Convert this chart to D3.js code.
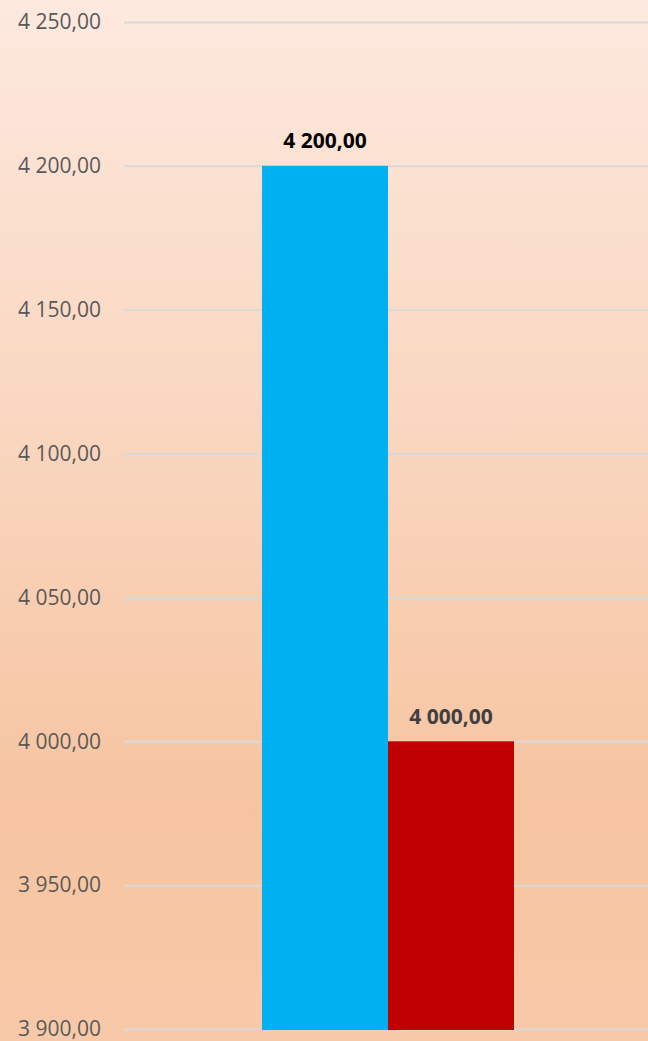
<!DOCTYPE html>
<html><head><meta charset="utf-8">
<script src="https://cdn.jsdelivr.net/npm/d3@7"></script>
<style>html,body{margin:0;padding:0;overflow:hidden;}svg{display:block;}</style>
</head><body>
<svg id="c" width="648" height="1041"></svg>
<script>
const categories = ["A", "B"];
const values = [4200, 4000];
const barColors = ["#00b0f0", "#c00000"];
const labelColors = ["#000000", "#404040"];
const yTicks = [3900, 3950, 4000, 4050, 4100, 4150, 4200, 4250];

const W = 648, H = 1041;
const svg = d3.select("#c");
const defs = svg.append("defs");
const g = defs.append("linearGradient").attr("id","bg").attr("x1",0).attr("y1",0).attr("x2",0).attr("y2",1);
g.append("stop").attr("offset","0%").attr("stop-color","#fde9df");
g.append("stop").attr("offset","48%").attr("stop-color","#f9d3ba");
g.append("stop").attr("offset","78%").attr("stop-color","#f6c4a0");
g.append("stop").attr("offset","100%").attr("stop-color","#f8c9a9");
svg.append("rect").attr("width",W).attr("height",H).attr("fill","url(#bg)");

const y = d3.scaleLinear().domain([3900, 4250]).range([1029, 22]);
const x = d3.scaleBand().domain(categories).range([262, 514]).paddingInner(0);
const fmt = v => d3.format(",.2f")(v).replace(/,/g," ").replace(".",",");

const axis = d3.axisLeft(y).tickValues(yTicks).tickSize(-(W-124)).tickFormat(fmt).tickPadding(23);
const ag = svg.append("g").attr("transform","translate(124,0)").call(axis);
ag.select(".domain").remove();
ag.selectAll(".tick line").attr("stroke","#d9d9d9").attr("stroke-width",2);
ag.selectAll(".tick text").attr("fill","#595959").attr("font-family","'Open Sans', sans-serif").attr("font-size",21);

svg.selectAll("rect.bar").data(values).enter().append("rect").attr("class","bar")
  .attr("x",(d,i)=>x(categories[i])).attr("width",x.bandwidth())
  .attr("y",d=>y(d)).attr("height",d=>y(3900)-y(d)+1)
  .attr("fill",(d,i)=>barColors[i]);

svg.selectAll("text.lbl").data(values).enter().append("text").attr("class","lbl")
  .attr("x",(d,i)=>x(categories[i])+x.bandwidth()/2)
  .attr("y",d=>y(d)-25+7.5)
  .attr("text-anchor","middle")
  .attr("font-family","'Open Sans', sans-serif").attr("font-weight","bold").attr("font-size",21)
  .attr("fill",(d,i)=>labelColors[i])
  .text(d=>fmt(d));
</script>
</body></html>
